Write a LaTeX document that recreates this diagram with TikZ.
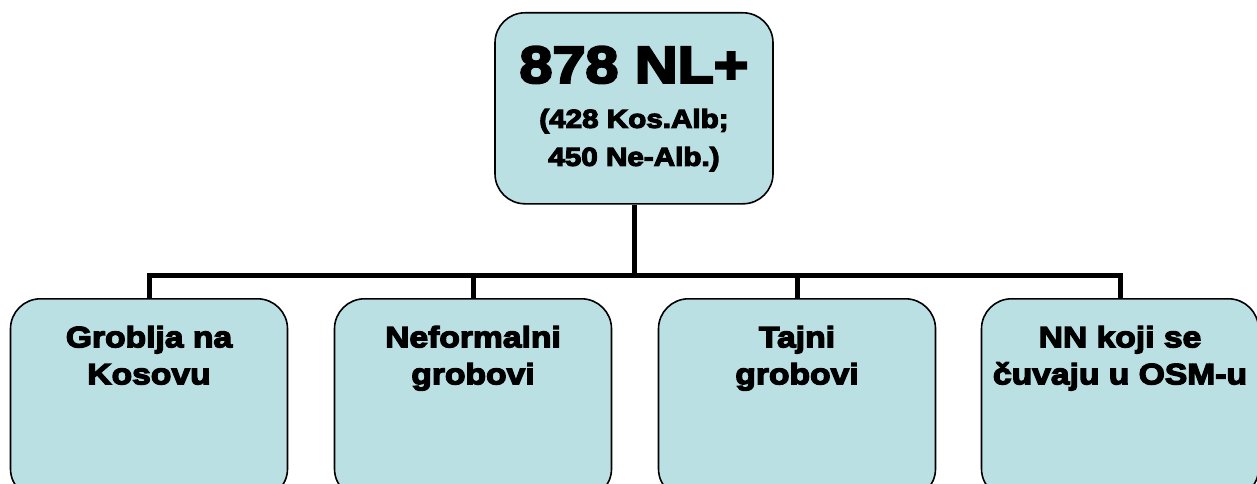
\documentclass[tikz,border=0pt]{standalone}
\usepackage{fontspec}
\setmainfont{Liberation Sans}
\newfontfamily\heavy{Liberation Sans Bold}[FakeStretch=1.14,FakeBold=4.5]
\definecolor{boxfill}{RGB}{187,224,227}
\begin{document}
\begin{tikzpicture}[x=1pt,y=-1pt,
  box/.style={draw=black, line width=1.6pt, fill=boxfill, rounded corners=30pt,
    inner sep=0pt, anchor=north, font=\heavy},
  lowbox/.style={box, minimum width=277pt, minimum height=200pt},
  conn/.style={line width=5pt, draw=black, line join=miter}]
\useasboundingbox (0,0) rectangle (1257,484);
\node[box, minimum width=278pt, minimum height=191pt] (top) at (634,12)
  {\begin{minipage}[t][185pt][t]{272pt}\centering
   {\fontsize{52}{52}\selectfont\rule{0pt}{67pt}878 NL+\par}
   \vspace{7pt}
   \fontsize{26}{38}\selectfont (428 Kos.Alb;\\450 Ne-Alb.)\par
   \end{minipage}};
\node[lowbox] (b1) at (149,298)
  {\begin{minipage}[t][195pt][t]{272pt}\centering
   \fontsize{29.5}{37}\selectfont\rule{0pt}{46pt}Groblja na\\Kosovu\par\end{minipage}};
\node[lowbox] (b2) at (473,298)
  {\begin{minipage}[t][195pt][t]{272pt}\centering
   \fontsize{29.5}{37}\selectfont\rule{0pt}{46pt}Neformalni\\grobovi\par\end{minipage}};
\node[lowbox] (b3) at (797,298)
  {\begin{minipage}[t][195pt][t]{272pt}\centering
   \fontsize{29.5}{37}\selectfont\rule{0pt}{46pt}Tajni\\grobovi\par\end{minipage}};
\node[lowbox] (b4) at (1120,298)
  {\begin{minipage}[t][195pt][t]{272pt}\centering
   \fontsize{29.5}{37}\selectfont\rule{0pt}{46pt}NN koji se\\čuvaju u OSM-u\par\end{minipage}};
\coordinate (j) at (634,275);
\draw[conn] (top.south) -- (j);
\draw[conn] (b1.north) -- (b1.north |- j) -- (b4.north |- j) -- (b4.north);
\draw[conn] (b2.north) -- (b2.north |- j);
\draw[conn] (b3.north) -- (b3.north |- j);
\end{tikzpicture}
\end{document}
